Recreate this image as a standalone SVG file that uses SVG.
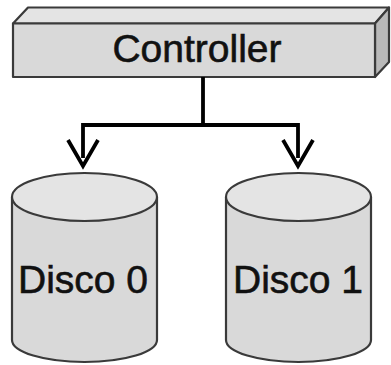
<svg xmlns="http://www.w3.org/2000/svg" width="391" height="365" viewBox="0 0 391 365">
  <style>
    .face { stroke: #3a3a3a; stroke-width: 2.2; stroke-linejoin: round; }
    .front { fill: #d9d9d9; }
    .top { fill: #e4e4e4; }
    .side { fill: #b9b9b9; }
    .label { font-family: "Liberation Sans", Arial, sans-serif; font-size: 39px; fill: #111; stroke: #111; stroke-width: 0.6; text-anchor: middle; }
    .wire { fill: none; stroke: #000; stroke-width: 3.8; stroke-linejoin: miter; }
  </style>

  <!-- controller block -->
  <g id="controller">
    <polygon class="face top" points="13,23.5 28,7.5 389,7.5 375,23.5"/>
    <polygon class="face side" points="375,23.5 389,7.5 389,62 375,77"/>
    <rect class="face front" x="13" y="23.5" width="362" height="53.5"/>
    <text class="label" x="197" y="62">Controller</text>
  </g>

  <!-- connectors: trunk, branches and open arrowheads -->
  <g id="connectors">
    <polyline class="wire" points="203,77 203,125 83,125 83,158"/>
    <polyline class="wire" points="203,125 298,125 298,158"/>
    <path d="M68,140 L83,166 L98,140" class="wire"/>
    <path d="M283,140 L298,166 L313,140" class="wire"/>
  </g>

  <!-- disk 0 -->
  <g id="disco0">
    <path class="face front" d="M12,197 L12,340 A72.5,22 0 0 0 157,340 L157,197 Z"/>
    <ellipse class="face top" cx="84.5" cy="197" rx="72.5" ry="24"/>
    <text class="label" x="83" y="293">Disco 0</text>
  </g>

  <!-- disk 1 -->
  <g id="disco1">
    <path class="face front" d="M226,197 L226,340 A72.5,22 0 0 0 371,340 L371,197 Z"/>
    <ellipse class="face top" cx="298.5" cy="197" rx="72.5" ry="24"/>
    <text class="label" x="298" y="293">Disco 1</text>
  </g>
</svg>
